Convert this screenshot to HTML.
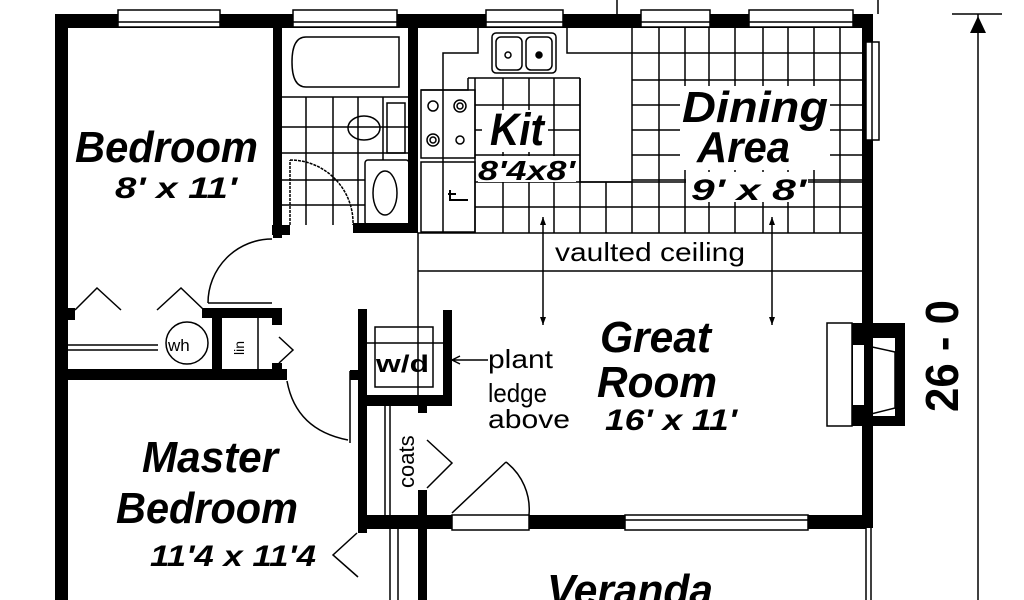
<!DOCTYPE html>
<html><head><style>
html,body{margin:0;padding:0;background:#fff;width:1024px;height:600px;overflow:hidden}
svg{display:block}
.t{font-family:"Liberation Sans",sans-serif;font-weight:bold;font-style:italic;fill:#000}
.n{font-family:"Liberation Sans",sans-serif;fill:#000}
</style></head><body>
<svg width="1024" height="600" viewBox="0 0 1024 600" xmlns="http://www.w3.org/2000/svg">
<rect width="1024" height="600" fill="#fff"/>
<g fill="none" stroke="#000" stroke-width="1.5">
<path d="M632 28V233 M659 28V233 M685 28V233 M709 28V233 M735 28V233 M763 28V233 M788 28V233 M814 28V233 M840 28V233"/>
<path d="M632 53H862 M632 80H862 M632 105H862 M632 130H862 M632 155H862 M632 180H862 M475 207H862 M580 182H862"/>
<path d="M503 78V233 M529 78V233 M554 78V233 M580 78V233 M606 182V233 M475 105H580 M468 78H580 M475 130H580 M475 155H580 M475 182H580 M475 78V233"/>
<path d="M281 97H409 M281 127H409 M281 153H409 M281 180H365 M281 205H365 M306 97V225 M333 97V225 M358 97V225 M383 97V160"/>
</g>
<g fill="#fff">
<rect x="482" y="110" width="66" height="42"/>
<rect x="478" y="156" width="98" height="26"/>
<rect x="680" y="86" width="150" height="84"/>
<rect x="686" y="172" width="122" height="30"/>
</g>
<g fill="none" stroke="#000" stroke-width="1.5">
<path d="M478 28V53H443V233 M567 28V53H632 M468 78V90H421 M580 78V182H632"/>
<rect x="421" y="90" width="54" height="68"/>
<rect x="421" y="162" width="54" height="70"/>
<rect x="492" y="33" width="64" height="40" rx="4"/>
<rect x="496" y="37" width="26" height="33" rx="5"/>
<rect x="526" y="37" width="26" height="33" rx="5"/>
<circle cx="508" cy="55" r="3"/><circle cx="539" cy="55" r="3" fill="#000"/>
<circle cx="433" cy="106" r="5"/><circle cx="460" cy="106" r="6"/><circle cx="460" cy="106" r="3"/>
<circle cx="433" cy="140" r="6"/><circle cx="433" cy="140" r="3"/><circle cx="460" cy="140" r="4"/>
<path d="M450 190V200H468 M448 194H456" stroke-width="2"/>
<path d="M399 37H306Q292 37 292 62Q292 87 306 87H399Z"/>
<rect x="387" y="103" width="18" height="50"/>
<ellipse cx="364" cy="128" rx="16" ry="12"/>
<rect x="365" y="160" width="44" height="65" rx="3"/>
<ellipse cx="385" cy="193" rx="12" ry="22"/>
<path d="M290 225V160 M290 160A63 63 0 0 1 353 225" stroke-dasharray="3 1"/>
<path d="M418 233H862 M418 271H862 M418 233V400"/>
<path d="M543 217V325 M772 217V325"/>
<path d="M75 310L97 288L121 310 M157 310L181 288L204 310"/>
<path d="M208 303H272 M208 303A64 64 0 0 1 272 239"/>
<path d="M68 345H158 M68 350H158"/>
<circle cx="187" cy="343" r="21"/>
<path d="M258 318V369"/>
<path d="M279 337L293 350L279 363"/>
<path d="M287 381Q296 430 348 440 M350 371V443"/>
<rect x="375" y="327" width="58" height="60"/>
<path d="M367 343H452"/>
<path d="M452 360H488 M452 360L460 356 M452 360L460 364"/>
<path d="M385 405V518 M390 405V518 M427 440L452 463L427 488"/>
<path d="M390 528V600 M398 528V600"/>
<path d="M357 533L333 555L358 577"/>
<path d="M452 513L506 462 M506 462A60 60 0 0 1 529 515"/>
<path d="M866 528V600 M871 528V600"/>
<rect x="827" y="323" width="25" height="103"/>
<path d="M863 345L895 352V408L863 416"/>
<path d="M978 14V600 M952 14H1002 M617 0V14 M878 0V14"/>
</g>
<polygon points="978,16 970,33 986,33" fill="#000"/>
<path d="M543 217l-3 8h6z M543 325l-3 -8h6z M772 217l-3 8h6z M772 325l-3 -8h6z" fill="#000"/>
<g fill="#000">
<rect x="55" y="14" width="818" height="14"/>
<rect x="55" y="14" width="13" height="586"/>
<rect x="862" y="14" width="11" height="514"/>
<rect x="273" y="28" width="9" height="210"/>
<rect x="272" y="225" width="18" height="10"/>
<rect x="408" y="28" width="10" height="205"/>
<rect x="353" y="223" width="65" height="10"/>
<rect x="68" y="308" width="7" height="12"/>
<rect x="202" y="308" width="80" height="10"/>
<rect x="272" y="308" width="10" height="17"/>
<rect x="212" y="318" width="10" height="51"/>
<rect x="272" y="363" width="10" height="7"/>
<rect x="68" y="369" width="219" height="11"/>
<rect x="350" y="370" width="12" height="10"/>
<rect x="358" y="309" width="9" height="224"/>
<rect x="443" y="310" width="9" height="95"/>
<rect x="358" y="395" width="94" height="11"/>
<rect x="418" y="405" width="9" height="8"/>
<rect x="418" y="490" width="9" height="110"/>
<rect x="358" y="515" width="508" height="14"/>
<path d="M852 323H905V426H852Z M863 338V416H895V338Z" fill-rule="evenodd"/>
</g>
<g fill="#fff" stroke="#000" stroke-width="1.5">
<rect x="118" y="10" width="102" height="17"/>
<rect x="293" y="10" width="104" height="17"/>
<rect x="486" y="10" width="77" height="17"/>
<rect x="641" y="10" width="69" height="17"/>
<rect x="749" y="10" width="104" height="17"/>
<rect x="866" y="42" width="13" height="98"/>
<rect x="452" y="515" width="77" height="15"/>
<rect x="625" y="515" width="183" height="15"/>
</g>
<g stroke="#000" stroke-width="1.5">
<path d="M118 22H220 M293 22H397 M486 22H563 M641 22H710 M749 22H853 M872 42V140 M625 520H808"/>
</g>
<rect x="853" y="345" width="11" height="60" fill="#fff"/>
<text class="t" x="75" y="162" font-size="44" textLength="183" lengthAdjust="spacingAndGlyphs">Bedroom</text>
<text class="t" x="115" y="198" font-size="30" textLength="122" lengthAdjust="spacingAndGlyphs">8' x 11'</text>
<text class="t" x="490" y="145" font-size="45" textLength="54" lengthAdjust="spacingAndGlyphs">Kit</text>
<text class="t" x="478" y="180" font-size="28" textLength="97" lengthAdjust="spacingAndGlyphs">8'4x8'</text>
<text class="t" x="682" y="122" font-size="44" textLength="146" lengthAdjust="spacingAndGlyphs">Dining</text>
<text class="t" x="697" y="162" font-size="44" textLength="93" lengthAdjust="spacingAndGlyphs">Area</text>
<text class="t" x="691" y="200" font-size="30" textLength="115" lengthAdjust="spacingAndGlyphs">9' x 8'</text>
<text class="n" x="555" y="261" font-size="26" textLength="190" lengthAdjust="spacingAndGlyphs">vaulted ceiling</text>
<text class="t" x="600" y="352" font-size="44" textLength="111" lengthAdjust="spacingAndGlyphs">Great</text>
<text class="t" x="597" y="397" font-size="44" textLength="120" lengthAdjust="spacingAndGlyphs">Room</text>
<text class="t" x="605" y="430" font-size="30" textLength="132" lengthAdjust="spacingAndGlyphs">16' x 11'</text>
<text class="n" x="488" y="368" font-size="26" textLength="65" lengthAdjust="spacingAndGlyphs">plant</text>
<text class="n" x="488" y="402" font-size="26" textLength="59" lengthAdjust="spacingAndGlyphs">ledge</text>
<text class="n" x="488" y="428" font-size="26" textLength="82" lengthAdjust="spacingAndGlyphs">above</text>
<text class="n" x="376" y="372" font-size="24" font-weight="bold" textLength="53" lengthAdjust="spacingAndGlyphs">w/d</text>
<text class="n" x="168" y="351" font-size="17">wh</text>
<text class="n" font-size="14" transform="translate(244,355) rotate(-90)">lin</text>
<text class="n" font-size="22" transform="translate(414,488) rotate(-90)">coats</text>
<text class="t" x="142" y="472" font-size="44" textLength="136" lengthAdjust="spacingAndGlyphs">Master</text>
<text class="t" x="116" y="523" font-size="44" textLength="182" lengthAdjust="spacingAndGlyphs">Bedroom</text>
<text class="t" x="150" y="566" font-size="30" textLength="166" lengthAdjust="spacingAndGlyphs">11'4 x 11'4</text>
<text class="t" x="547" y="605" font-size="44" textLength="166" lengthAdjust="spacingAndGlyphs">Veranda</text>
<text class="n" font-size="46" font-weight="bold" transform="translate(958,412) rotate(-90)" textLength="112" lengthAdjust="spacingAndGlyphs">26 - 0</text>
</svg>
</body></html>
